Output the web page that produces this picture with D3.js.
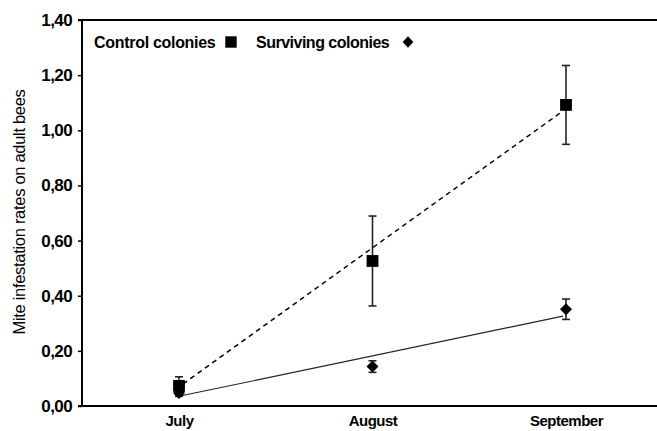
<!DOCTYPE html>
<html><head><meta charset="utf-8">
<script src="https://cdn.jsdelivr.net/npm/d3@7"></script>
<style>body{margin:0;background:#fff}svg{display:block}text{font-family:"Liberation Sans",Arial,sans-serif}</style>
</head><body><svg id="c" width="657" height="431"></svg>
<script>
const months = ["July", "August", "September"];
const yTicks = [0, 0.2, 0.4, 0.6, 0.8, 1.0, 1.2, 1.4];
const controlMean = [0.073, 0.526, 1.092];
const controlErr = [0.033, 0.163, 0.143];
const survMean = [0.047, 0.143, 0.351];
const survErr = [0.012, 0.021, 0.037];
const controlTrend = [0.08, 1.07];
const survTrend = [0.036, 0.326];

const svg = d3.select("#c");
const L = 82, T = 20, B = 406, R = 657;
const x = d3.scalePoint().domain(months).range([179, 566]);
const y = d3.scaleLinear().domain([0, 1.4]).range([B, T]);

svg.append("line").attr("x1", L).attr("x2", R).attr("y1", T).attr("y2", T).attr("stroke", "#000").attr("stroke-width", 2);
svg.append("line").attr("x1", L).attr("x2", R).attr("y1", B).attr("y2", B).attr("stroke", "#000").attr("stroke-width", 2);

const ya = d3.axisLeft(y).tickValues(yTicks).tickSize(4).tickPadding(6)
  .tickFormat(d => d3.format(".2f")(d).replace(".", ","));
const gy = svg.append("g").attr("transform", `translate(${L},0)`).call(ya);
gy.select(".domain").attr("stroke-width", 2).attr("d", `M-4,${T}H0V${B}H-4`);
gy.selectAll(".tick line").attr("stroke-width", 1.5);
gy.selectAll("text").attr("font-size", 17).attr("font-weight", "bold").attr("fill", "#000").attr("letter-spacing", "-0.6");

const xa = d3.axisBottom(x).tickSize(0).tickPadding(9);
const gx = svg.append("g").attr("transform", `translate(0,${B})`).call(xa);
gx.select(".domain").remove();
gx.selectAll("text").attr("font-size", 15).attr("font-weight", "bold").attr("fill", "#000").attr("letter-spacing", "-0.5");

svg.append("text").attr("transform", "translate(25,212) rotate(-90)").attr("text-anchor", "middle")
  .attr("font-size", 16.5).attr("letter-spacing", "-0.3").text("Mite infestation rates on adult bees");

svg.append("line").attr("x1", x("July") + 4).attr("x2", x("September") - 3)
  .attr("y1", y(controlTrend[0])).attr("y2", y(controlTrend[1]))
  .attr("stroke", "#000").attr("stroke-width", 1.5).attr("stroke-dasharray", "5,4");
svg.append("line").attr("x1", x("July") + 1).attr("x2", x("September") - 3)
  .attr("y1", y(survTrend[0])).attr("y2", y(survTrend[1]))
  .attr("stroke", "#222").attr("stroke-width", 1.1);

function errbars(mean, err) {
  months.forEach((m, i) => {
    const cx = x(m);
    const g = svg.append("g").attr("stroke", "#222").attr("stroke-width", 1.6);
    g.append("line").attr("x1", cx).attr("x2", cx).attr("y1", y(mean[i] + err[i])).attr("y2", y(mean[i] - err[i]));
    g.append("line").attr("x1", cx - 4).attr("x2", cx + 4).attr("y1", y(mean[i] + err[i])).attr("y2", y(mean[i] + err[i]));
    g.append("line").attr("x1", cx - 4).attr("x2", cx + 4).attr("y1", y(mean[i] - err[i])).attr("y2", y(mean[i] - err[i]));
  });
}
errbars(controlMean, controlErr);
errbars(survMean, survErr);

const dmPath = "M0,-6L6,0L0,6L-6,0Z";
const sq = d3.symbol().type(d3.symbolSquare).size(140);
svg.selectAll(".sv").data(survMean).enter().append("path")
  .attr("d", dmPath).attr("transform", (d, i) => `translate(${x(months[i])},${y(d)})`).attr("fill", "#000");
svg.selectAll(".ct").data(controlMean).enter().append("path")
  .attr("d", sq).attr("transform", (d, i) => `translate(${x(months[i])},${y(d)})`).attr("fill", "#000");

svg.append("text").attr("x", 94).attr("y", 47.5).attr("font-size", 16).attr("font-weight", "bold").attr("letter-spacing", "-0.3").text("Control colonies");
svg.append("path").attr("d", d3.symbol().type(d3.symbolSquare).size(130)).attr("transform", "translate(231,42)").attr("fill", "#000");
svg.append("text").attr("x", 256).attr("y", 47.5).attr("font-size", 16).attr("font-weight", "bold").attr("letter-spacing", "-0.5").text("Surviving colonies");
svg.append("path").attr("d", dmPath).attr("transform", "translate(408,42) scale(0.9,0.95)").attr("fill", "#000");
</script></body></html>
